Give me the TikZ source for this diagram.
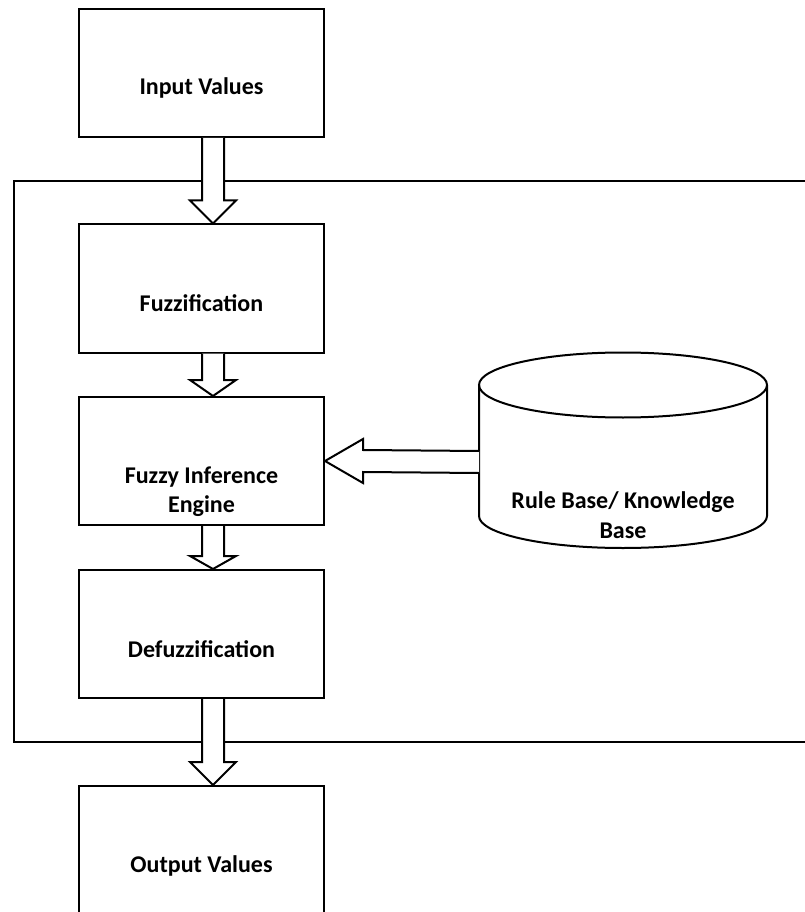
\documentclass[tikz,border=0pt]{standalone}
\usepackage{fontspec}
\setmainfont{Carlito}
\usetikzlibrary{calc}

\tikzset{
  block/.style={draw, line width=1.5pt, minimum width=183.75pt, minimum height=96pt},
  blocktext/.style={font=\fontsize{18}{22}\selectfont\bfseries, align=center},
  hollow/.style={draw, fill=white, line width=1.5pt, line join=miter},
}

% hollow block arrow pointing down: from node, to node, head length
\newcommand{\hollowdown}[3]{%
  \path[hollow] ($(#1.south)+(0.5,0)$) -- ($(#2.north)+(0.5,#3)$)
    -- ($(#2.north)+(-11.5,#3)$) -- ($(#2.north)+(11.5,0)$)
    -- ($(#2.north)+(34.5,#3)$) -- ($(#2.north)+(22.5,#3)$)
    -- ($(#1.south)+(22.5,0)$);}

\begin{document}
\begin{tikzpicture}[x=0.75pt, y=0.75pt]
    \useasboundingbox (0,0) rectangle (804,-912);

    % System frame
    \draw[line width=1.5pt] (806,-181.5) -- (14,-181.5) -- (14,-742) -- (806,-742);

    % Blocks
    \node[block] (inp) at (201.5,-73) {};
    \node[block] (fuzz) at (201.5,-288.5) {};
    \node[block] (inf) at (201.5,-461) {};
    \node[block] (defuzz) at (201.5,-634) {};
    \node[block] (out) at (201.5,-850) {};

    \node[blocktext] (inpt) at ($(inp)+(0,-15)$) {Input Values};
    \node[blocktext] (fuzzt) at ($(fuzz)+(0,-15)$) {Fuzzification};
    \node[blocktext] (inft) at ($(inf)+(0,-31)$) {Fuzzy Inference\\Engine};
    \node[blocktext] (defuzzt) at ($(defuzz)+(0,-15)$) {Defuzzification};
    \node[blocktext] (outt) at ($(out)+(0,-16)$) {Output Values};

    % Knowledge base cylinder
    \draw[line width=1.5pt] (479,-385) -- (479,-516)
        arc[start angle=180, end angle=360, x radius=144, y radius=32] -- (767,-385);
    \draw[line width=1.5pt] (623,-385) ellipse [x radius=144, y radius=32.5];
    \coordinate (kbw) at (479,-462);
    \node[blocktext] (kbt) at (623,-515) {Rule Base/ Knowledge\\Base};

    % Block arrows
    \hollowdown{inp}{fuzz}{23}
    \hollowdown{fuzz}{inf}{16}
    \hollowdown{inf}{defuzz}{13}
    \hollowdown{defuzz}{out}{23}
    \path[hollow] ($(kbw)+(0,11)$) -- ($(inf.east)+(38,11)$) -- ($(inf.east)+(38,22)$)
        -- (inf.east) -- ($(inf.east)+(38,-22)$) -- ($(inf.east)+(38,-11)$)
        -- ($(kbw)+(0,-11)$);
\end{tikzpicture}
\end{document}
